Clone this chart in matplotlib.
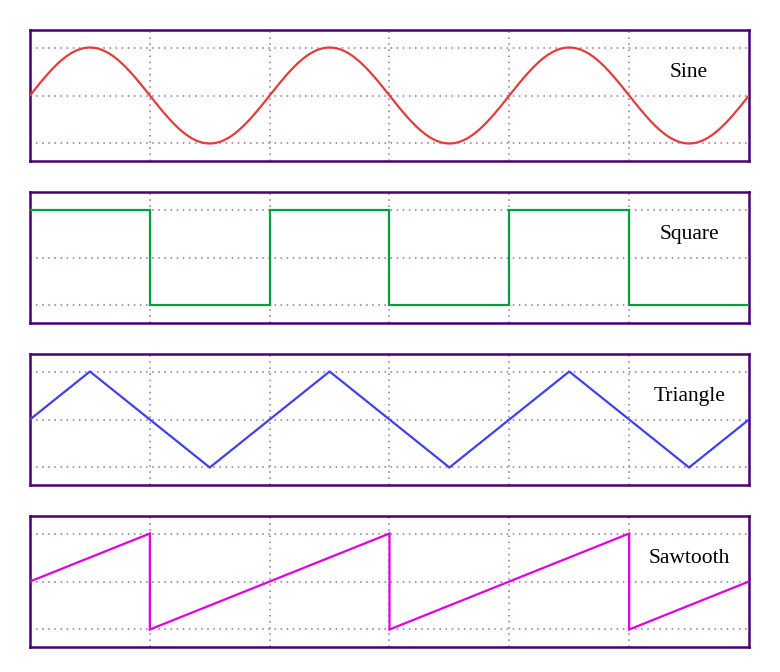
import numpy as np
import matplotlib
matplotlib.use("Agg")
import matplotlib.pyplot as plt

# ---- data ----
names = ["Sine", "Square", "Triangle", "Sawtooth"]
colors = ["#e23c3c", "#00a040", "#4040f0", "#e000e0"]

# Sine parameters: amplitude 1, period 2 (x units), x from 0 to 6
sine_amplitude = 1.0
sine_period = 2.0
x_max = 6.0

square_x = [0, 1, 1, 2, 2, 3, 3, 4, 4, 5, 5, 6]
square_y = [1, 1, -1, -1, 1, 1, -1, -1, 1, 1, -1, -1]

triangle_x = [0, 0.5, 1.5, 2.5, 3.5, 4.5, 5.5, 6]
triangle_y = [0, 1, -1, 1, -1, 1, -1, 0]

saw_x = [0, 1, 1, 3, 3, 5, 5, 6]
saw_y = [0, 1, -1, 1, -1, 1, -1, 0]

grid_x = [1, 2, 3, 4, 5]
grid_y = [-1, 0, 1]

# ---- figure ----
W, H = 780, 672
fig = plt.figure(figsize=(W / 100, H / 100), dpi=100)

tops = [30, 192, 354, 516]
ph = 131
left, right = 30, 749

xs = np.linspace(0, x_max, 1000)
sine_y = sine_amplitude * np.sin(2 * np.pi * xs / sine_period)

series = [
    (xs, sine_y),
    (square_x, square_y),
    (triangle_x, triangle_y),
    (saw_x, saw_y),
]

border = "#4a0070"
gridc = "#9a68b0"

for i, (name, col, (sx, sy)) in enumerate(zip(names, colors, series)):
    top = tops[i]
    ax = fig.add_axes([left / W, 1 - (top + ph) / H, (right - left) / W, ph / H])
    ax.set_xlim(0, x_max)
    ax.set_ylim(-1.365, 1.365)
    for gx in grid_x:
        ax.axvline(gx, color=gridc, lw=1.1, ls=(0, (1, 3)), zorder=1)
    for gy in grid_y:
        ax.axhline(gy, color=gridc, lw=1.1, ls=(0, (1, 3)), zorder=1)
    ax.plot(sx, sy, color=col, lw=1.6, zorder=3, solid_joinstyle="miter")
    ax.text(5.5, 0.47, name, ha="center", va="center", fontsize=15.5,
            family="Liberation Serif", color="black", zorder=4)
    ax.set_xticks([])
    ax.set_yticks([])
    for s in ax.spines.values():
        s.set_color(border)
        s.set_linewidth(1.8)

fig.savefig("out.png", dpi=100, facecolor="white")
